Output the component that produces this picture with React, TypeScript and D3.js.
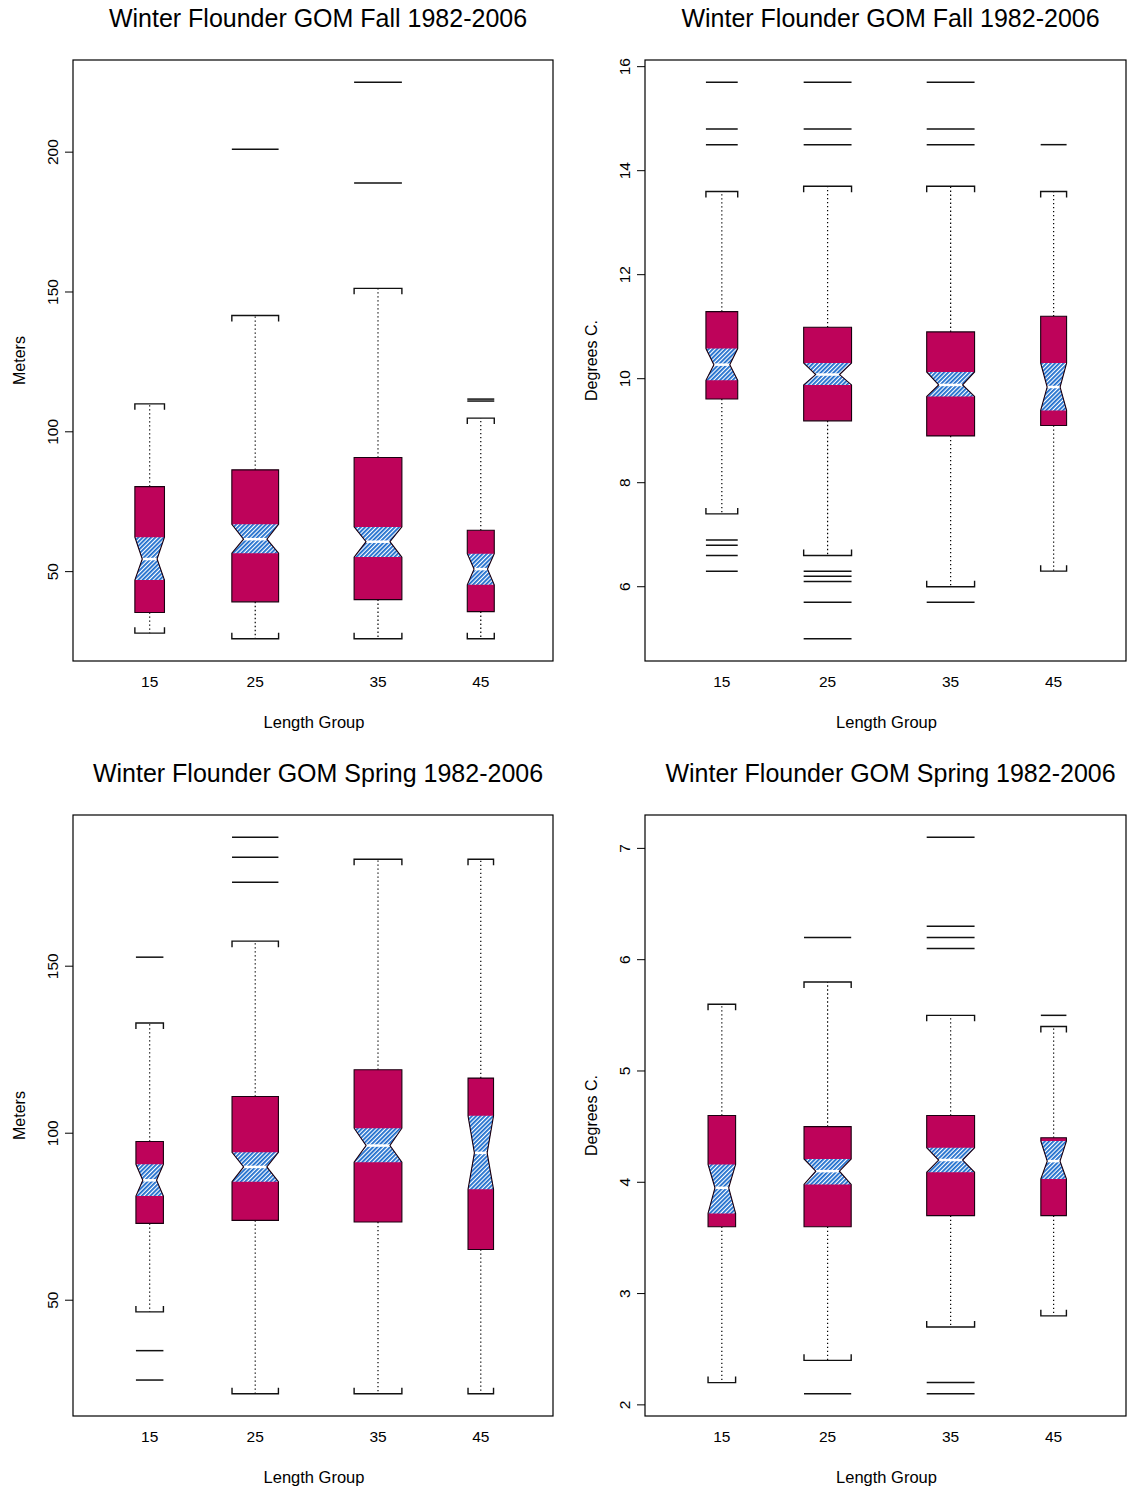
import React from 'react';
import * as d3 from 'd3';

// ---------- data ----------
const groups = ['15', '25', '35', '45'];
const groupPos = [1.03, 1.98, 3.085, 4.01];

// Panel 1: Fall depth (Meters)
const fallDepthN = [384, 958, 1000, 319];
const fallDepthLow = [28, 26, 26, 26];
const fallDepthQ1 = [35.4, 39.2, 40, 35.7];
const fallDepthNotchLo = [47, 56.6, 55.2, 45.3];
const fallDepthMed = [54.5, 61.6, 60.7, 50.9];
const fallDepthNotchHi = [62.3, 66.9, 66, 56.4];
const fallDepthQ3 = [80.4, 86.4, 90.8, 64.8];
const fallDepthHigh = [110, 141.6, 151.3, 104.9];
const fallDepthOut = [[], [201], [189, 225], [111, 111.7]];
const fallDepthTicks = [50, 100, 150, 200];

// Panel 2: Fall temperature (Degrees C.)
const fallTempN = [441, 1000, 1000, 293];
const fallTempLow = [7.4, 6.6, 6.0, 6.3];
const fallTempQ1 = [9.61, 9.19, 8.9, 9.1];
const fallTempNotchLo = [9.97, 9.88, 9.66, 9.39];
const fallTempMed = [10.27, 10.08, 9.88, 9.84];
const fallTempNotchHi = [10.58, 10.3, 10.13, 10.3];
const fallTempQ3 = [11.29, 10.99, 10.9, 11.2];
const fallTempHigh = [13.6, 13.7, 13.7, 13.6];
const fallTempOut = [
  [15.7, 14.8, 14.5, 6.9, 6.8, 6.6, 6.3],
  [15.7, 14.8, 14.5, 6.3, 6.2, 6.1, 5.7, 5.0],
  [15.7, 14.8, 14.5, 5.7],
  [14.5],
];
const fallTempTicks = [6, 8, 10, 12, 14, 16];

// Panel 3: Spring depth (Meters)
const springDepthN = [331, 943, 1000, 285];
const springDepthLow = [46.5, 22, 22, 22];
const springDepthQ1 = [73.0, 73.9, 73.4, 65.2];
const springDepthNotchLo = [81.2, 85.5, 91.3, 83.2];
const springDepthMed = [85.9, 89.9, 96.3, 94.1];
const springDepthNotchHi = [90.7, 94.3, 101.5, 105.2];
const springDepthQ3 = [97.5, 111.0, 119.0, 116.5];
const springDepthHigh = [133, 157.5, 182, 182];
const springDepthOut = [[152.7, 34.9, 26.1], [188.6, 182.6, 175.1], [], []];
const springDepthTicks = [50, 100, 150];

// Panel 4: Spring temperature (Degrees C.)
const springTempN = [331, 971, 1000, 285];
const springTempLow = [2.2, 2.4, 2.7, 2.8];
const springTempQ1 = [3.6, 3.6, 3.7, 3.7];
const springTempNotchLo = [3.72, 3.98, 4.09, 4.03];
const springTempMed = [3.95, 4.1, 4.2, 4.19];
const springTempNotchHi = [4.16, 4.21, 4.31, 4.37];
const springTempQ3 = [4.6, 4.5, 4.6, 4.4];
const springTempHigh = [5.6, 5.8, 5.5, 5.4];
const springTempOut = [[], [6.2, 2.1], [7.1, 6.3, 6.2, 6.1, 2.2, 2.1], [5.5]];
const springTempTicks = [2, 3, 4, 5, 6, 7];

// ---------- styling / layout ----------
const FONT = '"Liberation Sans", Arial, Helvetica, sans-serif';
const BOX_FILL = '#BE035A';
const HATCH = '#1a6bcc';

type Panel = {
  title: string;
  ylab: string;
  left: number;
  top: number;
  width: number;
  height: number;
  n: number[];
  low: number[];
  q1: number[];
  nlo: number[];
  med: number[];
  nhi: number[];
  q3: number[];
  high: number[];
  out: number[][];
  ticks: number[];
};

const panels: Panel[] = [
  {
    title: 'Winter Flounder GOM Fall 1982-2006', ylab: 'Meters',
    left: 73, top: 60, width: 480, height: 601,
    n: fallDepthN, low: fallDepthLow, q1: fallDepthQ1, nlo: fallDepthNotchLo, med: fallDepthMed,
    nhi: fallDepthNotchHi, q3: fallDepthQ3, high: fallDepthHigh, out: fallDepthOut, ticks: fallDepthTicks,
  },
  {
    title: 'Winter Flounder GOM Fall 1982-2006', ylab: 'Degrees C.',
    left: 645, top: 60, width: 481, height: 601,
    n: fallTempN, low: fallTempLow, q1: fallTempQ1, nlo: fallTempNotchLo, med: fallTempMed,
    nhi: fallTempNotchHi, q3: fallTempQ3, high: fallTempHigh, out: fallTempOut, ticks: fallTempTicks,
  },
  {
    title: 'Winter Flounder GOM Spring 1982-2006', ylab: 'Meters',
    left: 73, top: 815, width: 480, height: 601,
    n: springDepthN, low: springDepthLow, q1: springDepthQ1, nlo: springDepthNotchLo, med: springDepthMed,
    nhi: springDepthNotchHi, q3: springDepthQ3, high: springDepthHigh, out: springDepthOut, ticks: springDepthTicks,
  },
  {
    title: 'Winter Flounder GOM Spring 1982-2006', ylab: 'Degrees C.',
    left: 645, top: 815, width: 481, height: 601,
    n: springTempN, low: springTempLow, q1: springTempQ1, nlo: springTempNotchLo, med: springTempMed,
    nhi: springTempNotchHi, q3: springTempQ3, high: springTempHigh, out: springTempOut, ticks: springTempTicks,
  },
];

function BoxPanel({ p, idx }: { p: Panel; idx: number }) {
  const all = [...p.low, ...p.high, ...p.out.flat()];
  const [mn, mx] = d3.extent(all) as [number, number];
  const pad = (mx - mn) * 0.04;
  const y = d3.scaleLinear().domain([mn - pad, mx + pad]).range([p.top + p.height, p.top]);
  const x = d3.scaleLinear().domain([0.34, 4.66]).range([p.left, p.left + p.width]);
  const maxN = d3.max(p.n) as number;
  const boxwex = 0.43;
  const cx = p.left + p.width / 2;
  const bottom = p.top + p.height;
  const patId = `hatch${idx}`;

  return (
    <g>
      <defs>
        <pattern id={patId} patternUnits="userSpaceOnUse" width={3} height={3} patternTransform="rotate(45)">
          <rect width={3} height={3} fill="#ffffff" />
          <line x1={0.9} y1={0} x2={0.9} y2={3} stroke={HATCH} strokeWidth={1.8} />
        </pattern>
      </defs>
      {/* title */}
      <text x={cx + 5} y={p.top - 33} textAnchor="middle" fontSize={25} fontFamily={FONT} fill="#000">
        {p.title}
      </text>
      {/* boxes */}
      {groups.map((g, i) => {
        const c = x(groupPos[i]);
        const w = (x(boxwex) - x(0)) * Math.sqrt(p.n[i] / maxN);
        const l = c - w / 2;
        const r = c + w / 2;
        const nl = c - w / 4;
        const nr = c + w / 4;
        const yq1 = y(p.q1[i]);
        const yq3 = y(p.q3[i]);
        const ylo = y(p.nlo[i]);
        const yhi = y(p.nhi[i]);
        const ym = y(p.med[i]);
        const yLow = y(p.low[i]);
        const yHigh = y(p.high[i]);
        const outline = `M${l},${yq3} L${l},${yhi} L${nl},${ym} L${l},${ylo} L${l},${yq1} L${r},${yq1} L${r},${ylo} L${nr},${ym} L${r},${yhi} L${r},${yq3} Z`;
        const notch = `M${l},${yhi} L${nl},${ym} L${l},${ylo} L${r},${ylo} L${nr},${ym} L${r},${yhi} Z`;
        return (
          <g key={g}>
            {/* whiskers */}
            <line x1={c} x2={c} y1={yq3} y2={yHigh} stroke="#000" strokeWidth={1.2} strokeDasharray="1.3,2.7" />
            <line x1={c} x2={c} y1={yq1} y2={yLow} stroke="#000" strokeWidth={1.2} strokeDasharray="1.3,2.7" />
            <path d={`M${l},${yHigh + 6} V${yHigh} H${r} V${yHigh + 6}`} fill="none" stroke="#111" strokeWidth={1.4} />
            <path d={`M${l},${yLow - 6} V${yLow} H${r} V${yLow - 6}`} fill="none" stroke="#111" strokeWidth={1.4} />
            {/* box */}
            <path d={outline} fill={BOX_FILL} stroke="none" />
            <path d={notch} fill={`url(#${patId})`} stroke="none" />
            <line x1={nl} x2={nr} y1={ym} y2={ym} stroke="#fff" strokeWidth={2.5} />
            <path d={outline} fill="none" stroke="#1a0010" strokeWidth={1.1} />
            {/* outliers */}
            {p.out[i].map((v, k) => (
              <line key={k} x1={l} x2={r} y1={y(v)} y2={y(v)} stroke="#111" strokeWidth={1.5} />
            ))}
          </g>
        );
      })}
      {/* frame */}
      <rect x={p.left} y={p.top} width={p.width} height={p.height} fill="none" stroke="#000" strokeWidth={1.2} />
      {/* y axis */}
      {p.ticks.map((t) => (
        <g key={t}>
          <line x1={p.left - 8} x2={p.left} y1={y(t)} y2={y(t)} stroke="#000" strokeWidth={1} />
          <text
            transform={`translate(${p.left - 15},${y(t)}) rotate(-90)`}
            textAnchor="middle"
            fontSize={15.5}
            fontFamily={FONT}
            fill="#000"
          >
            {t}
          </text>
        </g>
      ))}
      <text
        transform={`translate(${p.left - 48},${p.top + p.height / 2}) rotate(-90)`}
        textAnchor="middle"
        fontSize={16}
        fontFamily={FONT}
        fill="#000"
      >
        {p.ylab}
      </text>
      {/* x axis labels */}
      {groups.map((g, i) => (
        <text key={g} x={x(groupPos[i])} y={bottom + 26} textAnchor="middle" fontSize={15.5} fontFamily={FONT} fill="#000">
          {g}
        </text>
      ))}
      <text x={cx + 1} y={bottom + 67} textAnchor="middle" fontSize={16.5} fontFamily={FONT} fill="#000">
        Length Group
      </text>
    </g>
  );
}

export default function App() {
  return (
    <svg
      width={1128}
      height={1492}
      viewBox="0 0 1128 1492"
      style={{ position: 'absolute', left: 0, top: 0, background: '#fff' }}
    >
      <rect width={1128} height={1492} fill="#fff" />
      {panels.map((p, i) => (
        <BoxPanel key={i} p={p} idx={i} />
      ))}
    </svg>
  );
}
